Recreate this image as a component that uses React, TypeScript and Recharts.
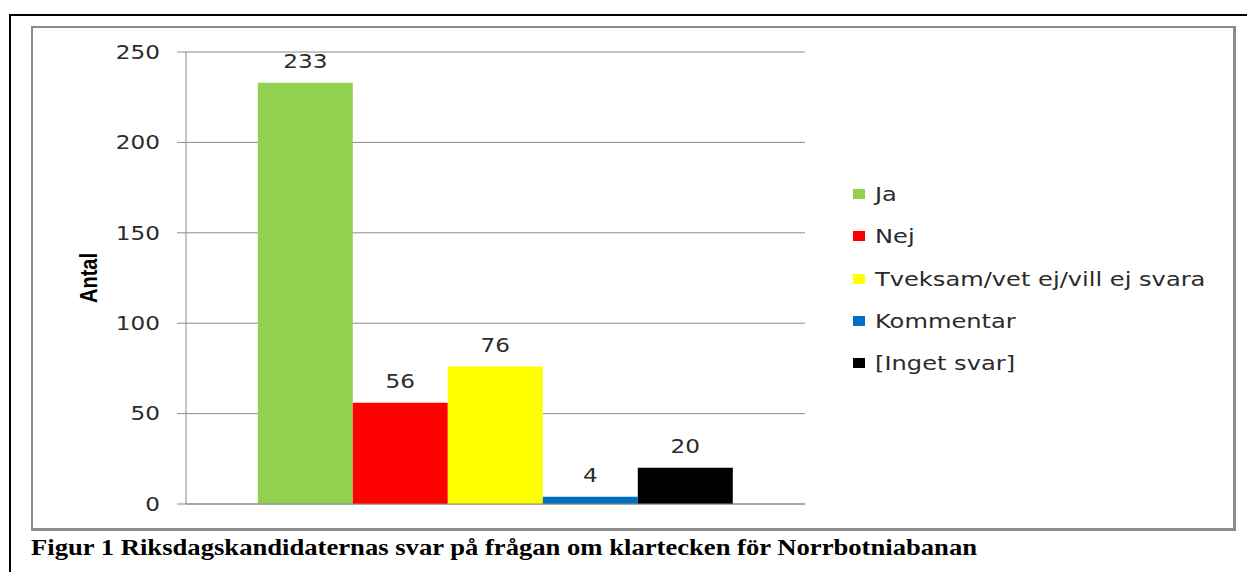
import React from "react";
import {
  Bar,
  BarChart,
  CartesianGrid,
  LabelList,
  Legend,
  XAxis,
  YAxis
} from "recharts";

// answers to the question, one bar per answer
const answers = ["Ja", "Nej", "Tveksam/vet ej/vill ej svara", "Kommentar", "[Inget svar]"];
const counts = [233, 56, 76, 4, 20];
const colors = ["#92D050", "#FF0000", "#FFFF00", "#0070C0", "#000000"];
const yTicks = [0, 50, 100, 150, 200, 250];

const caption = "Figur 1 Riksdagskandidaternas svar på frågan om klartecken för Norrbotniabanan";

// the original picture is stretched sideways, so text is widened a bit
const SX = 1.22;
const LEGEND_SX = 1.27;
const FONT = "DejaVu Sans";
const TEXT = "#2b2b2b";
const GRID = "#8a8a8a";

const row: Record<string, string | number> = { name: "" };
answers.forEach((_, i) => {
  row["s" + i] = counts[i];
});
const data = [row];

function YTick(props: any) {
  const { x, y, payload } = props;
  return (
    <text
      transform={`translate(${x},${y}) scale(${SX},1)`}
      textAnchor="end"
      dy="0.36em"
      fontFamily={FONT}
      fontSize={19}
      fill={TEXT}
    >
      {payload.value}
    </text>
  );
}

function ValueLabel(props: any) {
  const { x, y, width, value } = props;
  return (
    <text
      transform={`translate(${x + width / 2},${y - 15}) scale(${SX},1)`}
      textAnchor="middle"
      fontFamily={FONT}
      fontSize={19}
      fill={TEXT}
    >
      {value}
    </text>
  );
}

function AxisTitle(props: any) {
  const { viewBox } = props;
  const cx = viewBox.x - 38;
  const cy = viewBox.y + viewBox.height / 2;
  return (
    <text
      transform={`translate(${cx},${cy}) scale(${SX},1) rotate(-90)`}
      textAnchor="middle"
      dy="0.36em"
      fontFamily="Liberation Sans"
      fontWeight="bold"
      fontSize={20}
      fill="#000"
    >
      Antal
    </text>
  );
}

function LegendBox(props: any) {
  // keep the order of the answers, not alphabetical
  const items = [...(props.payload || [])].sort(
    (a: any, b: any) => answers.indexOf(a.value) - answers.indexOf(b.value)
  );
  return (
    <div>
      {items.map((p: any) => (
        <div key={p.value} style={{ height: 42.25, display: "flex", alignItems: "center" }}>
          <span style={{ width: 12, height: 10, background: p.color, display: "inline-block" }} />
          <span
            style={{
              marginLeft: 10,
              fontFamily: FONT,
              fontSize: 19,
              color: TEXT,
              whiteSpace: "nowrap",
              display: "inline-block",
              transform: `scaleX(${LEGEND_SX})`,
              transformOrigin: "left center"
            }}
          >
            {p.value}
          </span>
        </div>
      ))}
    </div>
  );
}

export default function App() {
  return (
    <div
      style={{
        position: "absolute",
        left: 0,
        top: 0,
        width: 1247,
        height: 572,
        overflow: "hidden",
        background: "#fff"
      }}
    >
      <div
        style={{
          position: "absolute",
          left: 9,
          top: 14,
          width: 1300,
          height: 600,
          borderTop: "2px solid #000",
          borderLeft: "2px solid #000"
        }}
      />
      <div
        style={{
          position: "absolute",
          left: 31,
          top: 26,
          width: 1200,
          height: 500,
          border: "2px solid #8c8c8c",
          borderRightWidth: 3,
          borderBottomWidth: 3
        }}
      />
      <div style={{ position: "absolute", left: 0, top: 0 }}>
        <BarChart
          width={1247}
          height={572}
          data={data}
          margin={{ top: 52, right: 62, bottom: 67, left: 126 }}
          barCategoryGap="11.6%"
          barGap={0}
        >
          <CartesianGrid vertical={false} stroke={GRID} />
          <XAxis
            dataKey="name"
            tick={false}
            tickLine={false}
            axisLine={{ stroke: GRID }}
            height={1}
          />
          <YAxis
            width={60}
            domain={[0, 250]}
            ticks={yTicks}
            interval={0}
            tickSize={9}
            tickMargin={17}
            tick={<YTick />}
            tickLine={{ stroke: GRID }}
            axisLine={{ stroke: GRID }}
            label={<AxisTitle />}
          />
          <Legend
            layout="vertical"
            align="right"
            verticalAlign="top"
            width={380}
            wrapperStyle={{ left: 853, top: 173 }}
            content={<LegendBox />}
          />
          {answers.map((a, i) => (
            <Bar
              key={a}
              dataKey={"s" + i}
              name={a}
              fill={colors[i]}
              isAnimationActive={false}
            >
              <LabelList dataKey={"s" + i} content={<ValueLabel />} />
            </Bar>
          ))}
        </BarChart>
      </div>
      <svg
        width={1247}
        height={42}
        style={{ position: "absolute", left: 0, top: 530 }}
      >
        <text
          x={31}
          y={25}
          textLength={946}
          lengthAdjust="spacingAndGlyphs"
          fontFamily="Liberation Serif"
          fontWeight="bold"
          fontSize={24}
          fill="#000"
        >
          {caption}
        </text>
      </svg>
    </div>
  );
}
